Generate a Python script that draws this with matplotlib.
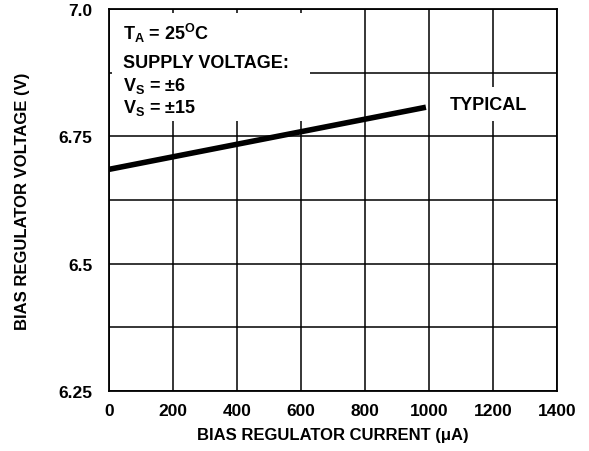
import matplotlib
matplotlib.use("Agg")
import matplotlib.pyplot as plt
from matplotlib.patches import Rectangle
from matplotlib.ticker import MultipleLocator

# typical curve
current_ua = [0, 990]
voltage_v = [6.685, 6.807]

x_ticks = [0, 200, 400, 600, 800, 1000, 1200, 1400]
y_ticks = [6.25, 6.5, 6.75, 7.0]
y_labels = ["6.25", "6.5", "6.75", "7.0"]

plt.rcParams['font.family'] = ['Liberation Sans', 'DejaVu Sans']
plt.rcParams['font.weight'] = 'bold'
plt.rcParams['axes.labelweight'] = 'bold'
plt.rcParams['mathtext.fontset'] = 'custom'
plt.rcParams['mathtext.rm'] = 'Liberation Sans:bold'
plt.rcParams['mathtext.it'] = 'Liberation Sans:bold'
plt.rcParams['mathtext.bf'] = 'Liberation Sans:bold'


def main():
    fig = plt.figure(figsize=(5.89, 4.52), dpi=100)
    ax = fig.add_axes([0.185, 0.133, 0.761, 0.845])

    ax.plot(current_ua, voltage_v, color='black', lw=4,
            solid_capstyle='butt', zorder=4)

    ax.set_xlim(0, 1400)
    ax.set_ylim(6.25, 7.0)
    ax.set_xticks(x_ticks)
    ax.set_yticks(y_ticks)
    ax.set_yticklabels(y_labels)
    ax.yaxis.set_minor_locator(MultipleLocator(0.125))
    ax.tick_params(which='both', length=0, labelsize=12.5)
    ax.tick_params(axis='x', pad=9)
    ax.tick_params(axis='y', pad=12)
    ax.grid(True, which='both', color='black', lw=1.1)
    for s in ax.spines.values():
        s.set_linewidth(1.3)

    # white patch behind the conditions block
    ax.add_patch(Rectangle((8, 6.78), 620, 0.213, facecolor='white',
                           edgecolor='none', zorder=2))
    fs = 13
    ax.text(45, 6.953, r'T$_\mathrm{A}$ = 25$^\mathrm{O}$C', fontsize=fs,
            va='center', zorder=3)
    ax.text(45, 6.894, 'SUPPLY VOLTAGE:', fontsize=fs, va='center', zorder=3)
    ax.text(45, 6.851, r'V$_\mathrm{S}$ = $\pm$6', fontsize=fs,
            va='center', zorder=3)
    ax.text(45, 6.808, r'V$_\mathrm{S}$ = $\pm$15', fontsize=fs,
            va='center', zorder=3)

    ax.text(1185, 6.813, 'TYPICAL', fontsize=fs, ha='center', va='center',
            zorder=3, bbox=dict(facecolor='white', edgecolor='none', pad=6))

    ax.set_xlabel('BIAS REGULATOR CURRENT (\u03bcA)', fontsize=12)
    ax.set_ylabel('BIAS REGULATOR VOLTAGE (V)', fontsize=12)
    ax.xaxis.set_label_coords(0.5, -0.095)
    ax.yaxis.set_label_coords(-0.176, 0.5)

    fig.savefig('out.png', dpi=100)


if __name__ == '__main__':
    main()
